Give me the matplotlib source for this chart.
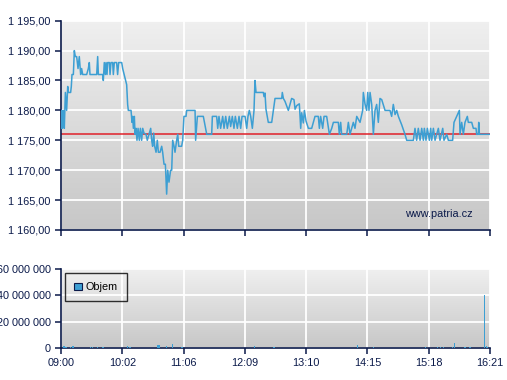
import matplotlib
matplotlib.use("Agg")
import matplotlib.pyplot as plt
import numpy as np
from matplotlib.patches import Rectangle

# ---------------- data ----------------
tick_labels = ["09:00", "10:02", "11:06", "12:09", "13:10", "14:15", "15:18", "16:21"]
session_minutes = 441  # 09:00 -> 16:21

price_times = [
    0.0, 0.7, 1.4, 2.4, 3.4, 4.5, 5.8, 6.9, 7.5, 9.9, 10.6, 11.3, 12.7, 13.7, 14.7, 16.1,
    17.5, 18.8, 20.2, 21.2, 22.3, 26.4, 28.1, 29.1, 29.8, 36.7, 37.7, 38.4, 42.8, 43.5,
    44.5, 45.6, 46.3, 47.3, 48.0, 49.7, 50.4, 51.4, 53.1, 53.8, 54.8, 57.2, 58.2, 59.3,
    62.4, 63.4, 65.8, 67.5, 68.5, 69.2, 72.0, 73.0, 73.7, 74.4, 75.4, 76.1, 77.1, 78.1,
    79.2, 80.5, 81.6, 82.9, 84.0, 85.3, 87.4, 88.7, 90.8, 92.2, 93.2, 94.2, 95.3, 96.3,
    97.7, 99.0, 100.1, 101.8, 103.5, 104.5, 105.9, 107.3, 108.6, 109.7, 111.0, 112.7,
    113.8, 114.8, 116.2, 117.2, 118.9, 120.0, 121.0, 124.0, 125.1, 126.4, 128.5, 129.2,
    137.8, 138.4, 140.2, 146.3, 149.8, 154.9, 155.6, 160.0, 161.1, 162.4, 164.1, 166.2,
    167.6, 169.3, 171.0, 173.1, 174.4, 176.1, 177.8, 179.2, 181.3, 183.0, 184.7, 186.1,
    189.2, 190.9, 192.2, 193.6, 195.0, 196.7, 198.4, 199.4, 200.5,
    208.0, 208.7, 209.7, 210.7, 213.1, 216.6, 220.0, 226.9, 227.5, 228.6, 230.3, 233.7,
    237.1, 239.5, 240.6, 242.3, 245.0, 246.4, 247.4, 249.1, 250.2, 251.9, 254.3, 257.7,
    261.1, 264.5, 265.6, 266.9, 269.0, 270.4, 273.1, 275.9, 278.3, 280.0, 285.1, 286.1,
    287.5, 288.5, 293.7, 295.4, 297.1, 300.5, 302.2, 304.0, 307.4, 310.1, 310.8, 312.5,
    314.2, 315.3, 316.6, 317.7, 319.4, 321.1, 322.8, 324.5, 326.2, 327.9, 329.7, 333.1,
    338.2, 339.9, 341.6, 343.4, 345.1, 346.8, 350.2, 353.6, 355.4, 362.2, 363.9, 365.6,
    367.3, 369.1, 370.8, 372.5, 373.5, 375.2, 376.6, 378.7, 380.0, 381.1, 382.8, 384.5,
    387.9, 389.6, 392.4, 393.7, 396.5, 398.2, 402.6, 404.0, 409.5, 410.2, 411.9, 413.6,
    415.3, 417.7, 418.7, 422.2, 423.9, 426.6, 427.3, 429.0, 429.4, 430.1, 441.0,
]
prices = [
    1177, 1180, 1177, 1180, 1177, 1183, 1180, 1184, 1183, 1183, 1184, 1186, 1186, 1190, 1189, 1189,
    1187, 1189, 1186, 1187, 1186, 1186, 1187, 1188, 1186, 1186, 1189, 1186, 1186, 1185,
    1188, 1186, 1188, 1186, 1188, 1188, 1186, 1188, 1188, 1186, 1188, 1188, 1186, 1188,
    1188, 1187, 1185.4, 1184.3, 1181, 1180, 1180, 1178, 1179, 1177, 1179, 1176, 1177, 1175,
    1177, 1175, 1177, 1175, 1177, 1176.2, 1176, 1175, 1176.2, 1177, 1175, 1174, 1176.2, 1174,
    1173, 1175, 1173, 1173, 1174, 1173, 1171, 1171, 1166, 1170, 1168, 1170,
    1170, 1175, 1174, 1173, 1175, 1176, 1174, 1174, 1175, 1179, 1179, 1180,
    1180, 1175, 1179, 1179, 1176, 1176, 1179, 1179, 1177, 1179, 1177, 1179,
    1177, 1179, 1177, 1179, 1177.3, 1179, 1177, 1179, 1177, 1179, 1177, 1179,
    1179, 1177, 1179, 1180, 1179, 1177, 1180, 1185, 1183,
    1183, 1182.3, 1182.9, 1180.2, 1178, 1178, 1182, 1182, 1183, 1182, 1181.5, 1180,
    1182, 1181.8, 1180.2, 1180.8, 1181.1, 1177, 1179.6, 1177.9, 1180, 1178.2, 1177, 1177,
    1179, 1179, 1177, 1179, 1177, 1179, 1179, 1176, 1177, 1178, 1178, 1176,
    1178, 1176, 1176, 1178, 1176, 1178, 1177, 1179, 1178, 1180, 1183, 1181.1,
    1180, 1183, 1180, 1183, 1181, 1176, 1180, 1181, 1178, 1182, 1181.8, 1180,
    1180, 1179, 1181, 1179.3, 1180, 1179, 1177.6, 1176, 1175, 1175, 1177, 1175,
    1177, 1175, 1177, 1175, 1177, 1175, 1177, 1175, 1177, 1175, 1177, 1175,
    1177, 1175, 1177, 1175, 1176, 1175, 1175, 1178, 1180, 1176, 1178, 1176,
    1178, 1179, 1178, 1178, 1177, 1177, 1176, 1176, 1178, 1176, 1176,
]
reference_price = 1176

volume_times = [3.1, 5.1, 10.0, 12.3, 30.1, 32.6, 37.3, 43.2, 68.2, 70.9, 99.7, 100.7,
                108.3, 114.4, 124.4, 199.1, 219.0, 304.6, 321.0, 374.9, 387.2, 390.0,
                393.0, 402.3, 404.3, 415.3, 420.5, 435.2, 437.6, 438.6]
volumes = [1.8e6, 0.8e6, 0.8e6, 1.5e6, 0.8e6, 0.8e6, 0.8e6, 0.8e6, 1.5e6, 0.8e6, 2.3e6, 2.3e6,
           1.5e6, 3.0e6, 0.8e6, 1.5e6, 0.8e6, 2.3e6, 0.8e6, 0.8e6, 0.8e6, 0.8e6,
           0.8e6, 0.8e6, 3.8e6, 0.8e6, 0.8e6, 40.0e6, 1.5e6, 0.8e6]

price_ticks = [1160, 1165, 1170, 1175, 1180, 1185, 1190, 1195]
volume_ticks = [0, 20e6, 40e6, 60e6]

# ---------------- style ----------------
NAVY = "#0b1a4a"
LINE = "#3d9fd3"
RED = "#e0202a"
plt.rcParams['font.family'] = ['Liberation Sans', 'DejaVu Sans']

fig = plt.figure(figsize=(5.07, 3.80), dpi=100)
fig.patch.set_facecolor("white")

W, H = 507, 380
def axes_rect(l, t, r, b):
    return [l / W, 1 - b / H, (r - l) / W, (b - t) / H]

ax1 = fig.add_axes(axes_rect(61, 20.7, 490, 230))
ax2 = fig.add_axes(axes_rect(61, 269, 490, 348))

xticks = np.linspace(0, session_minutes, len(tick_labels))

def gradient(ax, top, bottom):
    g = np.linspace(top, bottom, 256)[:, None]
    img = np.dstack([g, g, g])
    ax.imshow(img, extent=[0, 1, 0, 1], transform=ax.transAxes, aspect='auto',
              zorder=0, interpolation='bilinear')

def fmt_thousands(v, dec):
    s = f"{v:,.{dec}f}"
    s = s.replace(",", " ").replace(".", ",")
    return s

for ax in (ax1, ax2):
    ax.set_facecolor("#dcdcdc")
    for s in ("top", "right"):
        ax.spines[s].set_visible(False)
    for s in ("left", "bottom"):
        ax.spines[s].set_color(NAVY)
        ax.spines[s].set_linewidth(1.2)
    ax.tick_params(colors=NAVY, labelcolor=NAVY, labelsize=7.8, length=4, width=1.1, direction='out')
    ax.set_xticks(xticks)
    ax.grid(True, color="white", linewidth=1.3, zorder=1)
    ax.set_axisbelow(True)

gradient(ax1, 0.94, 0.78)
gradient(ax2, 0.94, 0.78)

# price chart
ax1.plot(price_times, prices, color=LINE, linewidth=1.1, zorder=3)
ax1.axhline(reference_price, color=RED, linewidth=1.1, zorder=2)
ax1.set_xlim(0, session_minutes)
ax1.set_ylim(1160, 1195)
ax1.set_yticks(price_ticks)
ax1.set_yticklabels([fmt_thousands(v, 2) for v in price_ticks])
ax1.set_xticklabels([])
ax1.text(0.96, 0.075, "www.patria.cz", transform=ax1.transAxes, ha='right', va='center',
         color=NAVY, fontsize=7.8, zorder=4)

# volume chart
ax2.bar(volume_times, volumes, width=1.2, color=LINE, zorder=3, linewidth=0)
ax2.set_xlim(0, session_minutes)
ax2.set_ylim(0, 60e6)
ax2.set_yticks(volume_ticks)
ax2.set_yticklabels([fmt_thousands(v, 0) for v in volume_ticks])
ax2.set_xticklabels(tick_labels)

leg_handle = Rectangle((0, 0), 1, 1, facecolor=LINE, edgecolor=NAVY, linewidth=0.8)
leg = ax2.legend([leg_handle], ["Objem"], loc='upper left', bbox_to_anchor=(0.009, 0.95),
                 frameon=True, fancybox=False, fontsize=7.8, handlelength=0.7, handleheight=0.7,
                 handletextpad=0.4, borderpad=0.85, borderaxespad=0.0)
leg.get_frame().set_edgecolor("black")
leg.get_frame().set_facecolor("none")
leg.get_frame().set_linewidth(1.0)
for t in leg.get_texts():
    t.set_color("black")

fig.savefig("out.png", dpi=100)
